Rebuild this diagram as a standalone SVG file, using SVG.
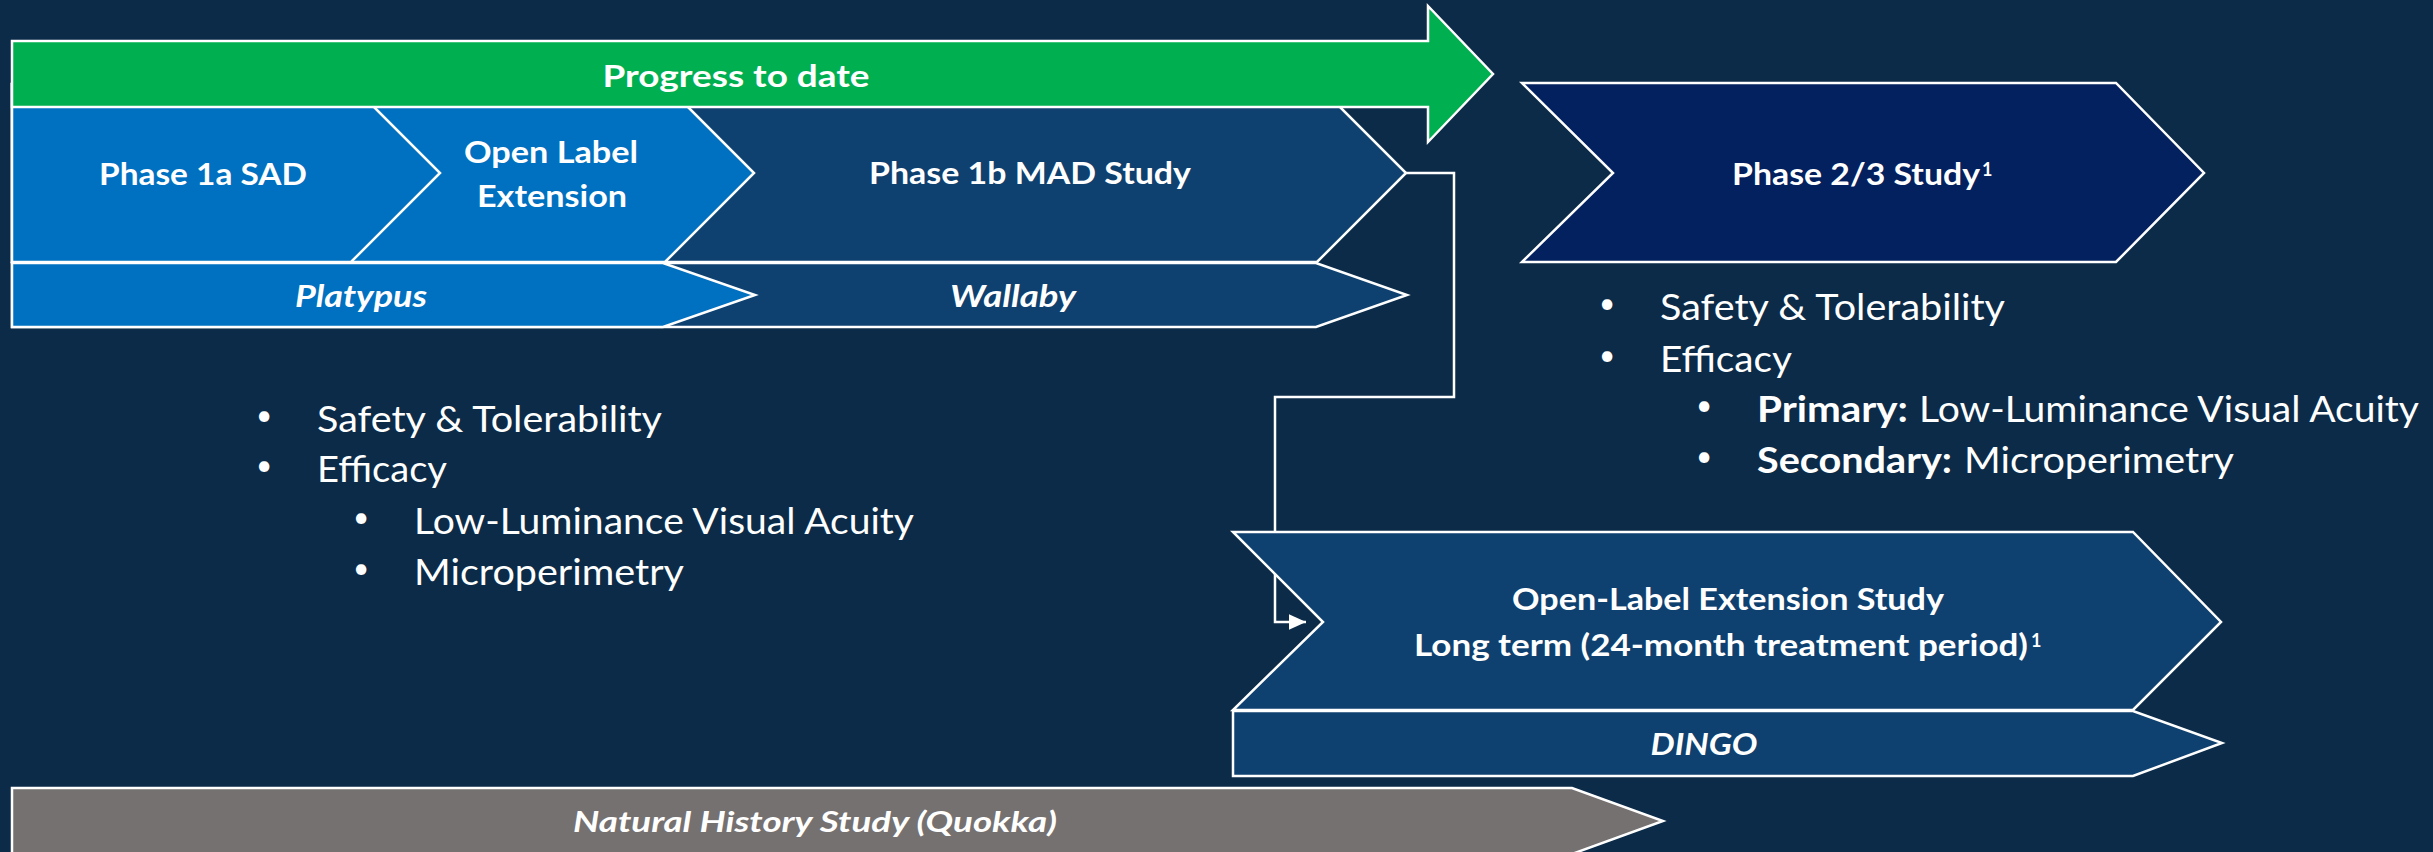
<svg xmlns="http://www.w3.org/2000/svg" width="2433" height="852" viewBox="0 0 2433 852">
<style>
.shp{stroke:#ffffff;stroke-width:2.5;stroke-linejoin:miter}
.lt{fill:#0070c0}
.dk{fill:#0f4170}
.nv{fill:#03205f}
.gr{fill:#00b050}
.gy{fill:#767171}
.lbl{font-family:Lato,"Liberation Sans",sans-serif;font-weight:bold;font-size:30px;fill:#ffffff;text-anchor:middle}
.it{font-style:italic}
.sup{font-family:Lato,"Liberation Sans",sans-serif;font-weight:bold;font-size:18px;fill:#ffffff}
.bl{font-family:Lato,"Liberation Sans",sans-serif;font-size:37px;fill:#ffffff}
.dot{font-family:Lato,"Liberation Sans",sans-serif;font-size:28px;fill:#ffffff;text-anchor:middle}
.b{font-weight:bold}
.conn{fill:none;stroke:#ffffff;stroke-width:2.5}
</style>
<defs>
<marker id="ah" markerWidth="8" markerHeight="8" refX="7" refY="4" orient="auto" markerUnits="strokeWidth">
<path d="M0,0.8 L7,4 L0,7.2 Z" fill="#ffffff"/>
</marker>
</defs>
<rect width="2433" height="852" fill="#0c2b48"/>
<g id="connectors">
<path class="conn" d="M1406,173 H1454 V397 H1275 V622 H1306" marker-end="url(#ah)"/>
</g>
<g id="phase1b">
<polygon class="shp dk" points="12,84 1317,84 1406,173 1317,262 12,262"/>
<text class="lbl" x="1030" y="184" textLength="322" lengthAdjust="spacingAndGlyphs">Phase 1b MAD Study</text>
</g>
<g id="ole">
<polygon class="shp lt" points="12,84 665,84 754,173 665,262 12,262"/>
<text class="lbl" x="551" y="163" textLength="174" lengthAdjust="spacingAndGlyphs">Open Label</text>
<text class="lbl" x="552" y="207" textLength="150" lengthAdjust="spacingAndGlyphs">Extension</text>
</g>
<g id="phase1a">
<polygon class="shp lt" points="12,84 351,84 440,173 351,262 12,262"/>
<text class="lbl" x="203" y="185" textLength="208" lengthAdjust="spacingAndGlyphs">Phase 1a SAD</text>
</g>
<g id="progress">
<polygon class="shp gr" points="12,41 1428,41 1428,6 1493,74 1428,142 1428,107 12,107"/>
<text class="lbl" x="736" y="87" textLength="267" lengthAdjust="spacingAndGlyphs">Progress to date</text>
</g>
<g id="wallaby">
<polygon class="shp dk" points="12,263 1316,263 1407,295 1316,327 12,327"/>
<text class="lbl it" x="1013" y="307" textLength="126" lengthAdjust="spacingAndGlyphs">Wallaby</text>
</g>
<g id="platypus">
<polygon class="shp lt" points="12,263 663,263 755,295 663,327 12,327"/>
<text class="lbl it" x="361" y="307" textLength="132" lengthAdjust="spacingAndGlyphs">Platypus</text>
</g>
<g id="phase23">
<polygon class="shp nv" points="1522,83 2116,83 2204,173 2116,262 1522,262 1613,173"/>
<text class="lbl" x="1732" y="185" style="text-anchor:start" textLength="248" lengthAdjust="spacingAndGlyphs">Phase 2/3 Study</text>
<text class="sup" x="1982" y="176">1</text>
</g>
<g id="ole-study">
<polygon class="shp dk" points="1233,532 2133,532 2221,622 2133,710 1233,710 1323,622"/>
<text class="lbl" x="1728" y="610" textLength="432" lengthAdjust="spacingAndGlyphs">Open-Label Extension Study</text>
<text class="lbl" x="1414" y="656" style="text-anchor:start" textLength="614" lengthAdjust="spacingAndGlyphs">Long term (24-month treatment period)</text>
<text class="sup" x="2031" y="647">1</text>
</g>
<g id="dingo">
<polygon class="shp dk" points="1233,711 2133,711 2222,743 2133,776 1233,776"/>
<text class="lbl it" x="1704" y="755" textLength="107" lengthAdjust="spacingAndGlyphs">DINGO</text>
</g>
<g id="quokka">
<polygon class="shp gy" points="12,788 1572,788 1663,821 1572,854 12,854"/>
<text class="lbl it" x="815" y="832" style="font-size:29px" textLength="484" lengthAdjust="spacingAndGlyphs">Natural History Study (Quokka)</text>
</g>
<g id="bullets-left">
<text class="dot" x="264" y="425">•</text>
<text class="bl" x="317" y="432" textLength="345" lengthAdjust="spacingAndGlyphs">Safety &amp; Tolerability</text>
<text class="dot" x="264" y="475">•</text>
<text class="bl" x="317" y="482" textLength="130" lengthAdjust="spacingAndGlyphs">Efficacy</text>
<text class="dot" x="361" y="527">•</text>
<text class="bl" x="414" y="534" textLength="500" lengthAdjust="spacingAndGlyphs">Low-Luminance Visual Acuity</text>
<text class="dot" x="361" y="578">•</text>
<text class="bl" x="414" y="585" textLength="270" lengthAdjust="spacingAndGlyphs">Microperimetry</text>
</g>
<g id="bullets-right">
<text class="dot" x="1607" y="313">•</text>
<text class="bl" x="1660" y="320" textLength="345" lengthAdjust="spacingAndGlyphs">Safety &amp; Tolerability</text>
<text class="dot" x="1607" y="365">•</text>
<text class="bl" x="1660" y="372" textLength="132" lengthAdjust="spacingAndGlyphs">Efficacy</text>
<text class="dot" x="1704" y="415">•</text>
<text class="bl b" x="1757" y="422" textLength="151" lengthAdjust="spacingAndGlyphs">Primary:</text>
<text class="bl" x="1919" y="422" textLength="500" lengthAdjust="spacingAndGlyphs">Low-Luminance Visual Acuity</text>
<text class="dot" x="1704" y="466">•</text>
<text class="bl b" x="1757" y="473" textLength="195" lengthAdjust="spacingAndGlyphs">Secondary:</text>
<text class="bl" x="1964" y="473" textLength="270" lengthAdjust="spacingAndGlyphs">Microperimetry</text>
</g>
</svg>
